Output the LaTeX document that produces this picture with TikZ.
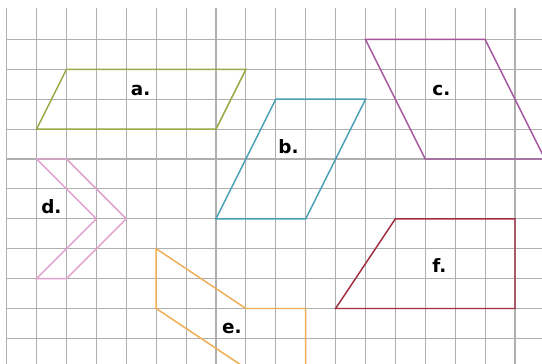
\documentclass[tikz,border=0pt]{standalone}
\usepackage{fontspec}
\newfontfamily\lblfont{DejaVu Sans}
\definecolor{gridc}{RGB}{175,175,175}
\definecolor{colA}{RGB}{150,172,72}
\definecolor{colB}{RGB}{72,160,180}
\definecolor{colC}{RGB}{165,85,160}
\definecolor{colD}{RGB}{225,160,205}
\definecolor{colE}{RGB}{240,175,85}
\definecolor{colF}{RGB}{165,45,65}
\begin{document}
\begin{tikzpicture}[x=1cm,y=-1cm,
  gridline/.style={draw=gridc,line width=1.1pt},
  figline/.style={line width=1.4pt,line join=miter},
  lbl/.style={anchor=base west,inner sep=0pt,font=\lblfont\bfseries\fontsize{17.5}{20}\selectfont}]
\useasboundingbox (-0.224,-0.318) rectangle (17.903,11.823);
\clip (-0.224,-0.318) rectangle (17.903,11.823);
\fill[white] (-0.224,-0.318) rectangle (17.903,11.823);
% grid
\foreach \i in {0,...,17} \draw[gridline] (\i,-0.05) -- (\i,12);
\foreach \j in {1,...,11} \draw[gridline] (0,\j) -- (18.3,\j);
% a
\draw[figline,colA] (2,2) -- (8,2) -- (7,4) -- (1,4) -- cycle;
% b
\draw[figline,colB] (9,3) -- (12,3) -- (10,7) -- (7,7) -- cycle;
% c
\draw[figline,colC] (12,1) -- (16,1) -- (18,5) -- (14,5) -- cycle;
% d
\draw[figline,colD] (1,5) -- (3,7) -- (1,9) -- (2,9) -- (4,7) -- (2,5) -- cycle;
% e
\draw[figline,colE] (5,8) -- (8,10) -- (10,10) -- (10,12) -- (8,12) -- (5,10) -- cycle;
% f
\draw[figline,colF] (13,7) -- (17,7) -- (17,10) -- (11,10) -- cycle;
% labels
\node[lbl] (la) at (4.15,2.86) {a.};
\node[lbl] (lb) at (9.08,4.80) {b.};
\node[lbl] (lc) at (14.23,2.86) {c.};
\node[lbl] (ld) at (1.15,6.81) {d.};
\node[lbl] (le) at (7.2,10.82) {e.};
\node[lbl] (lf) at (14.23,8.81) {f.};
\end{tikzpicture}
\end{document}
